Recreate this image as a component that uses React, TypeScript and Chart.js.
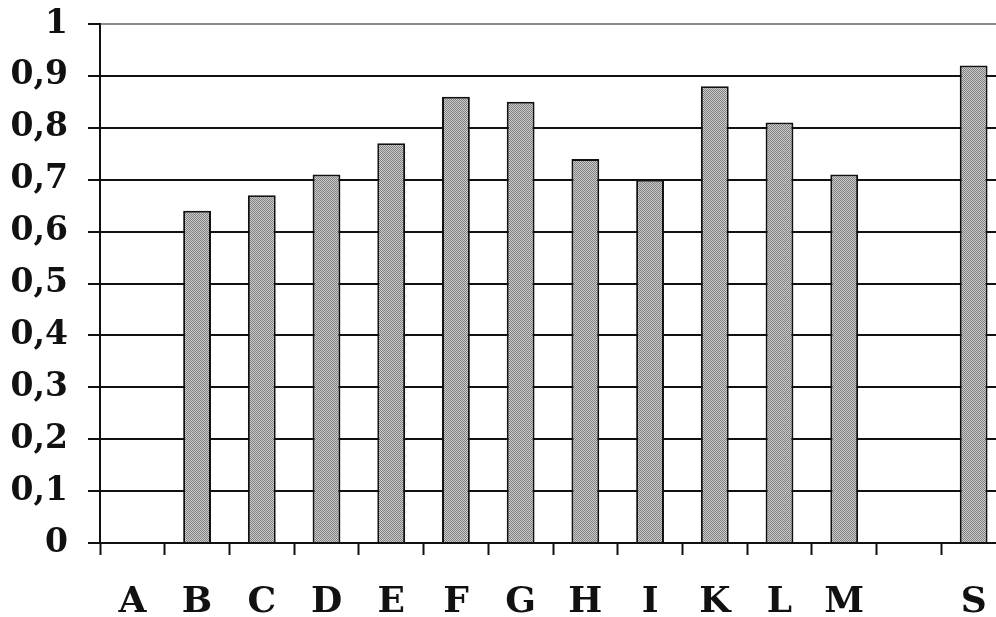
import { useEffect, useRef } from "react"
import Chart from "chart.js/auto"

const categories = ["A", "B", "C", "D", "E", "F", "G", "H", "I", "K", "L", "M", "", "S"]
const values = [null, 0.64, 0.67, 0.71, 0.77, 0.86, 0.85, 0.74, 0.7, 0.88, 0.81, 0.71, null, 0.92]
const yTicks = [0, 0.1, 0.2, 0.3, 0.4, 0.5, 0.6, 0.7, 0.8, 0.9, 1]

const FONT = "'DejaVu Serif', serif"

// small checker pattern to mimic the printed grey fill
function makePattern(): CanvasPattern | string {
  const c = document.createElement("canvas")
  c.width = 2
  c.height = 2
  const g = c.getContext("2d")
  if (!g) return "#a6a6a6"
  g.fillStyle = "#cccccc"
  g.fillRect(0, 0, 2, 2)
  g.fillStyle = "#808080"
  g.fillRect(0, 0, 1, 1)
  g.fillRect(1, 1, 1, 1)
  return g.createPattern(c, "repeat") || "#a6a6a6"
}

const formatTick = (v: number) => Number(v.toFixed(1)).toString().replace(".", ",")

export default function App() {
  const chartRef = useRef<HTMLCanvasElement>(null)
  const chartInstance = useRef<Chart | null>(null)

  useEffect(() => {
    if (!chartRef.current) return
    if (chartInstance.current) chartInstance.current.destroy()

    chartInstance.current = new Chart(chartRef.current, {
      type: "bar",
      data: {
        labels: categories,
        datasets: [
          {
            data: values,
            backgroundColor: makePattern(),
            borderColor: "#111",
            borderWidth: 2,
            barPercentage: 0.43,
            categoryPercentage: 1,
          },
        ],
      },
      options: {
        responsive: true,
        maintainAspectRatio: false,
        animation: false,
        layout: { padding: { top: 24, left: 0, right: 0, bottom: 0 } },
        plugins: {
          legend: { display: false },
          tooltip: { enabled: false },
        },
        scales: {
          x: {
            grid: {
              drawOnChartArea: false,
              drawTicks: true,
              tickLength: 12,
              tickColor: "#111",
              tickWidth: 2,
              offset: true,
            },
            border: { color: "#111", width: 2 },
            ticks: {
              color: "#111",
              padding: 26,
              font: { family: FONT, size: 36, weight: "bold" },
            },
            afterFit: (scale) => {
              scale.height = 74
              scale.paddingLeft = 0
              scale.paddingRight = 0
            },
          },
          y: {
            min: 0,
            max: 1,
            afterBuildTicks: (scale) => {
              scale.ticks = yTicks.map((value) => ({ value }))
            },
            grid: {
              color: (ctx) => (ctx.tick && ctx.tick.value === 1 ? "#8c8c8c" : "#111"),
              lineWidth: 2,
              tickLength: 12,
              tickColor: "#111",
              tickWidth: 2,
            },
            border: { color: "#111", width: 2 },
            ticks: {
              color: "#111",
              padding: 20,
              font: { family: FONT, size: 33, weight: "bold" },
              callback: (v) => formatTick(Number(v)),
            },
            afterFit: (scale) => {
              scale.width = 100
              scale.paddingTop = 0
              scale.paddingBottom = 0
            },
          },
        },
      },
    })

    return () => {
      if (chartInstance.current) {
        chartInstance.current.destroy()
        chartInstance.current = null
      }
    }
  }, [])

  return (
    <div style={{ position: "fixed", left: 0, top: 0, width: 996, height: 617, overflow: "hidden", background: "#fff" }}>
      <div style={{ position: "relative", width: 1006, height: 617 }}>
        <canvas ref={chartRef}></canvas>
      </div>
    </div>
  )
}
